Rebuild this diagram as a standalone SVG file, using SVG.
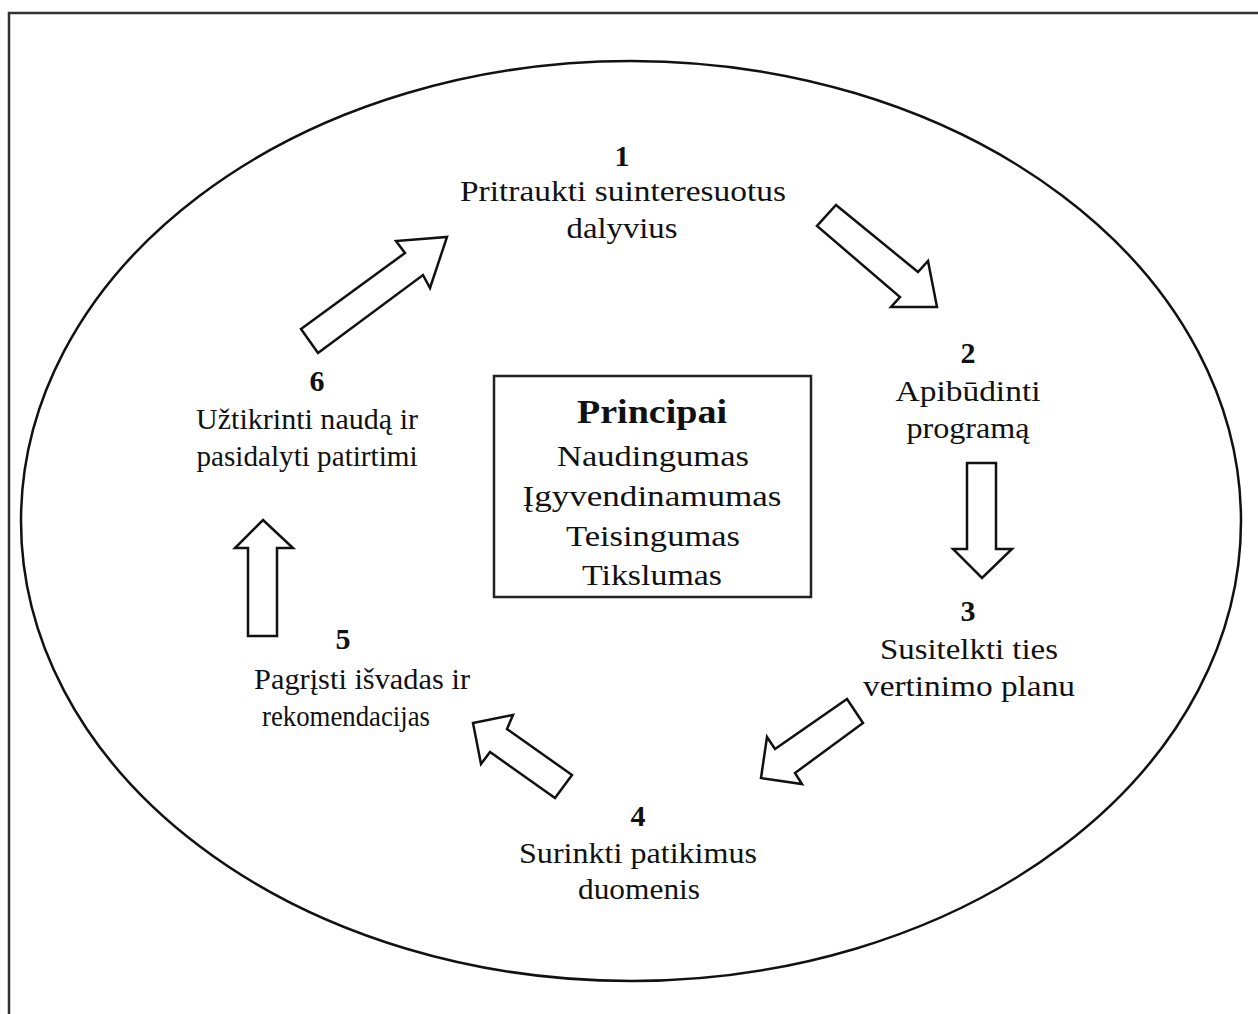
<svg xmlns="http://www.w3.org/2000/svg" width="1258" height="1014" viewBox="0 0 1258 1014">
<style>
.t{font-family:"Liberation Serif","Times New Roman",serif;font-size:30px;fill:#111;text-anchor:middle}
.n{font-family:"Liberation Serif","Times New Roman",serif;font-size:30px;font-weight:bold;fill:#111;text-anchor:middle}
.b{font-family:"Liberation Serif","Times New Roman",serif;font-size:33px;font-weight:bold;fill:#111;text-anchor:middle}
.arr{fill:#fff;stroke:#111;stroke-width:2.5;stroke-linejoin:miter}
</style>
<rect width="1258" height="1014" fill="#fff"/>
<rect x="9" y="13" width="1300" height="1100" fill="none" stroke="#333" stroke-width="2.5"/>
<ellipse cx="631" cy="521" rx="610" ry="460" fill="none" stroke="#111" stroke-width="2.5"/>

<g id="center">
<rect x="494" y="376" width="317" height="221" fill="#fff" stroke="#222" stroke-width="2.5"/>
<text class="b" x="652" y="423" textLength="150" lengthAdjust="spacingAndGlyphs">Principai</text>
<text class="t" x="653" y="466" textLength="192" lengthAdjust="spacingAndGlyphs">Naudingumas</text>
<text class="t" x="652" y="506" textLength="259" lengthAdjust="spacingAndGlyphs">Įgyvendinamumas</text>
<text class="t" x="653" y="546" textLength="174" lengthAdjust="spacingAndGlyphs">Teisingumas</text>
<text class="t" x="652" y="585" textLength="140" lengthAdjust="spacingAndGlyphs">Tikslumas</text>
</g>

<g id="step1">
<text class="n" x="622" y="166">1</text>
<text class="t" x="623" y="201" textLength="326" lengthAdjust="spacingAndGlyphs">Pritraukti suinteresuotus</text>
<text class="t" x="622" y="238" textLength="111" lengthAdjust="spacingAndGlyphs">dalyvius</text>
</g>
<g id="step2">
<text class="n" x="968" y="363">2</text>
<text class="t" x="968" y="401" textLength="145" lengthAdjust="spacingAndGlyphs">Apibūdinti</text>
<text class="t" x="968" y="438" textLength="123" lengthAdjust="spacingAndGlyphs">programą</text>
</g>
<g id="step3">
<text class="n" x="968" y="621">3</text>
<text class="t" x="969" y="659" textLength="178" lengthAdjust="spacingAndGlyphs">Susitelkti ties</text>
<text class="t" x="969" y="696" textLength="212" lengthAdjust="spacingAndGlyphs">vertinimo planu</text>
</g>
<g id="step4">
<text class="n" x="638" y="826">4</text>
<text class="t" x="638" y="863" textLength="238" lengthAdjust="spacingAndGlyphs">Surinkti patikimus</text>
<text class="t" x="639" y="899" textLength="122" lengthAdjust="spacingAndGlyphs">duomenis</text>
</g>
<g id="step5">
<text class="n" x="343" y="649">5</text>
<text class="t" x="362" y="689" textLength="216" lengthAdjust="spacingAndGlyphs">Pagrįsti išvadas ir</text>
<text class="t" x="346" y="726" textLength="168" lengthAdjust="spacingAndGlyphs">rekomendacijas</text>
</g>
<g id="step6">
<text class="n" x="317" y="391">6</text>
<text class="t" x="307" y="429" textLength="222" lengthAdjust="spacingAndGlyphs">Užtikrinti naudą ir</text>
<text class="t" x="307" y="466" textLength="221" lengthAdjust="spacingAndGlyphs">pasidalyti patirtimi</text>
</g>

<g id="connectors">
<polygon class="arr" points="301,329 405,253 396,241 447,237 430,288 423,275 318,353"/>
<polygon class="arr" points="836,205 918,272 928,261 937,307 891,307 900,297 817,226"/>
<polygon class="arr" points="967,463 996,463 996,549 1012,549 982,578 953,549 967,549"/>
<polygon class="arr" points="847,699 863,723 795,773 802,784 761,778 767,737 775,749"/>
<polygon class="arr" points="572,775 507,729 513,715 473,723 481,764 490,752 555,798"/>
<polygon class="arr" points="263,520 293,548 277,548 277,636 248,636 248,548 235,548"/>
</g>
</svg>
